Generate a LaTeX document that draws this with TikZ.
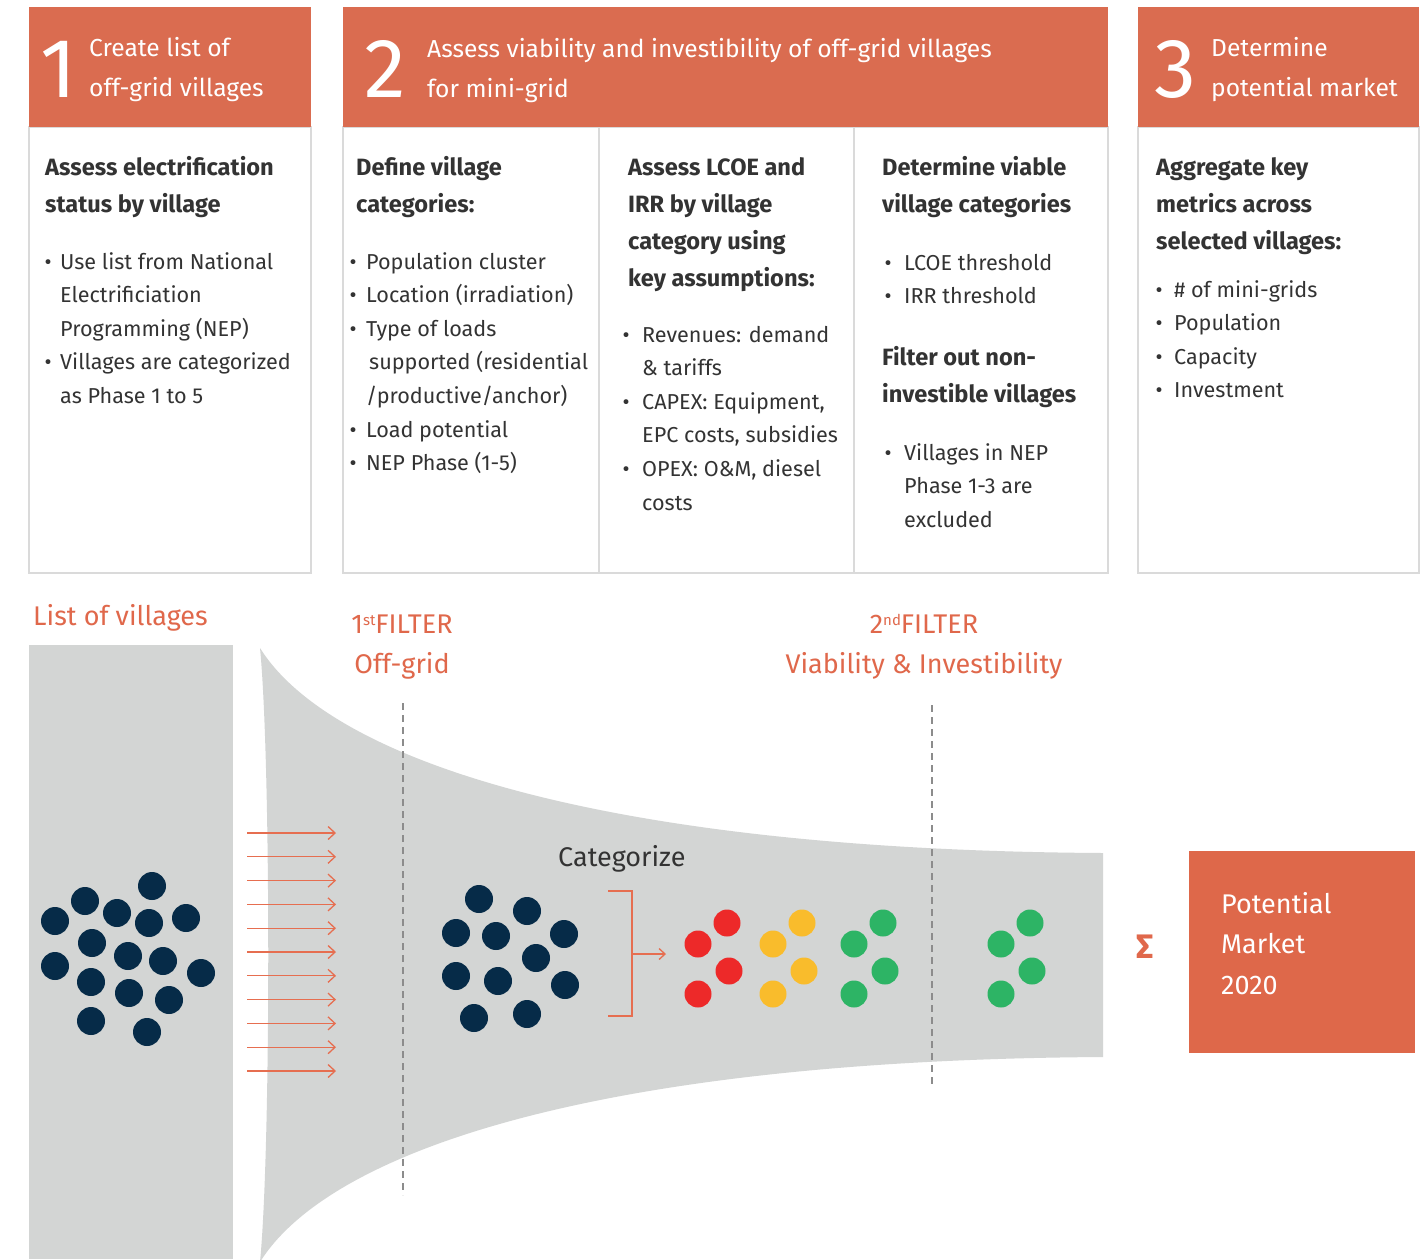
\documentclass[tikz,border=0pt]{standalone}
\usepackage{fontspec}
\setmainfont{Fira Sans}
\usetikzlibrary{arrows.meta}
\definecolor{hdr}{RGB}{218,108,80}
\definecolor{pmc}{RGB}{222,104,74}
\definecolor{org}{RGB}{224,104,75}
\definecolor{arr}{RGB}{230,110,80}
\definecolor{fun}{RGB}{211,213,212}
\definecolor{navy}{RGB}{6,43,72}
\definecolor{dred}{RGB}{237,41,41}
\definecolor{dyel}{RGB}{249,188,44}
\definecolor{dgrn}{RGB}{45,180,101}
\definecolor{txt}{RGB}{51,51,51}
\definecolor{brd}{RGB}{218,218,218}
\definecolor{dsh}{RGB}{140,140,140}
\newcommand\bu[1]{\leavevmode\llap{\makebox[0pt]{\textbullet}\hspace{#1pt}}}
\newcommand\sups[1]{\raisebox{7.5pt}{\fontsize{15}{15}\selectfont #1}}
\tikzset{
  hdrbox/.style={fill=hdr, draw=none, inner sep=0pt, anchor=north west},
  bodybox/.style={draw=brd, line width=1.3pt},
  bignum/.style={anchor=base west, inner sep=0pt, text=white, font=\fontsize{84}{84}\selectfont},
  htext/.style={anchor=base west, inner sep=0pt, text=white, font=\fontsize{24.6}{40}\selectfont},
  headtxt/.style={anchor=base west, inner sep=0pt, text=txt, font=\bfseries\fontsize{23.6}{37}\selectfont},
  bultxt/.style={anchor=base west, inner sep=0pt, text=txt, font=\fontsize{21.6}{33.6}\selectfont},
  orglbl/.style={inner sep=0pt, text=org, font=\fontsize{27}{27}\selectfont},
  flow/.style={draw=arr, line width=1.3pt, -{Straight Barb[length=7pt,width=13pt,line width=1.3pt]}},
  filterline/.style={draw=dsh, line width=1.4pt, dash pattern=on 7pt off 5pt}
}
\begin{document}
\begin{tikzpicture}[x=1pt,y=-1pt]
\useasboundingbox (0,0) rectangle (1426,1259);
\fill[white] (0,0) rectangle (1426,1259);

% ---------- top panels ----------
\draw[bodybox] (29,127) rectangle (311,573);
\draw[bodybox] (343,127) rectangle (1108,573);
\draw[bodybox] (599,127) -- (599,573);
\draw[bodybox] (854,127) -- (854,573);
\draw[bodybox] (1138,127) rectangle (1419,573);
\node[hdrbox, minimum width=282pt, minimum height=120pt] (h1) at (29,7) {};
\node[hdrbox, minimum width=765pt, minimum height=120pt] (h2) at (343,7) {};
\node[hdrbox, minimum width=281pt, minimum height=120pt] (h3) at (1138,7) {};

\node[bignum] (n1) at (40,97) {1};
\node[bignum] (n2) at (364,97) {2};
\node[bignum] (n3) at (1154,97) {3};
\node[htext] (t1) at (89,56) {\parbox[t]{215pt}{Create list of\\off-grid villages}};
\node[htext] (t2) at (427,57) {\parbox[t]{670pt}{Assess viability and investibility of off-grid villages\\for mini-grid}};
\node[htext] (t3) at (1211,56) {\parbox[t]{205pt}{Determine\\potential market}};

% column 1
\node[headtxt] (c1h) at (45,175) {\parbox[t]{262pt}{Assess electrification\\status by village}};
\node[bultxt] (c1b) at (60,269) {\parbox[t]{245pt}{\bu{12}Use list from National\\Electrificiation\\Programming (NEP)\\\bu{12}Villages are categorized\\as Phase 1 to 5}};
% column 2
\node[headtxt] (c2h) at (356,175) {\parbox[t]{235pt}{Define village\\categories:}};
\node[bultxt] (c2b) at (366,269) {\parbox[t]{230pt}{\bu{13}Population cluster\\\bu{13}Location (irradiation)\\\bu{13}Type of loads\\\hspace*{3pt}supported (residential\\/productive/anchor)\\\bu{13}Load potential\\\bu{13}NEP Phase (1-5)}};
% column 3
\node[headtxt] (c3h) at (628,175) {\parbox[t]{220pt}{Assess LCOE and\\IRR by village\\category using\\key assumptions:}};
\node[bultxt] (c3b) at (642,342) {\parbox[t]{210pt}{\bu{16}Revenues: demand\\\& tariffs\\\bu{16}CAPEX: Equipment,\\EPC costs, subsidies\\\bu{16}OPEX: O\&M, diesel\\costs}};
% column 4
\node[headtxt] (c4h) at (882,175) {\parbox[t]{220pt}{Determine viable\\village categories}};
\node[bultxt] (c4b) at (904,270) {\parbox[t]{200pt}{\bu{16}LCOE threshold\\\bu{16}IRR threshold}};
\node[headtxt] (c4h2) at (882,365) {\parbox[t]{220pt}{Filter out non-\\investible villages}};
\node[bultxt] (c4b2) at (904,460) {\parbox[t]{200pt}{\bu{16}Villages in NEP\\Phase 1-3 are\\excluded}};
% column 5
\node[headtxt] (c5h) at (1156,175) {\parbox[t]{255pt}{Aggregate key\\metrics across\\selected villages:}};
\node[bultxt] (c5b) at (1174,297) {\parbox[t]{235pt}{\bu{15}\# of mini-grids\\\bu{15}Population\\\bu{15}Capacity\\\bu{15}Investment}};

% ---------- funnel ----------
\fill[fun] (29,645) rectangle (233,1259);
\fill[fun] (260,648) .. controls (330,760) and (600,850) .. (1103,853)
  -- (1103,1057) .. controls (600,1060) and (330,1150) .. (260,1262)
  .. controls (271,1150) and (271,760) .. (260,648) -- cycle;

% arrows into funnel
\foreach \y [count=\i] in {833,856.8,880.6,904.4,928.2,952,975.8,999.6,1023.4,1047.2,1071} {
  \coordinate (as\i) at (247,\y);
  \coordinate (ae\i) at (336,\y);
  \draw[flow] (as\i) -- (ae\i);
}

% filter lines
\coordinate (f1t) at (403,703);
\coordinate (f1b) at (403,1195);
\coordinate (f2t) at (932,705);
\coordinate (f2b) at (932,1085);
\draw[filterline] (f1t) -- (f1b);
\draw[filterline] (f2t) -- (f2b);

% dots: list of villages
\foreach \x/\y in {152/886,85/901,117/913,55/921,149/923,186/918,92/943,128/956,163/961,55/966,201/973,91/982,129/993,169/1000,91/1021,147/1032}
  \fill[navy] (\x,\y) circle[radius=14];
% dots: off-grid
\foreach \x/\y in {479/899,527/911,456/933,496/936,564/934,536/958,456/976,498/981,565/985,474/1018,527/1014}
  \fill[navy] (\x,\y) circle[radius=14];
% categorized dots
\foreach \x/\y in {727/923,698/944,729/971,698/994}
  \fill[dred] (\x,\y) circle[radius=13.5];
\foreach \x/\y in {802/923,773/944,804/971,773/994}
  \fill[dyel] (\x,\y) circle[radius=13.5];
\foreach \x/\y in {883/923,854/944,885/971,854/994,1030/923,1001/944,1032/971,1001/994}
  \fill[dgrn] (\x,\y) circle[radius=13.5];

% categorize bracket
\coordinate (bt) at (608,891);
\coordinate (bb) at (608,1016);
\coordinate (bm) at (632,954);
\coordinate (be) at (666,954);
\draw[draw=arr, line width=1.3pt] (bt) -| (bm) |- (bb);
\draw[draw=arr, line width=1.3pt, -{Straight Barb[length=6pt,width=11pt,line width=1.3pt]}] (bm) -- (be);
\node[anchor=base west, inner sep=0pt, text=txt, font=\fontsize{27}{27}\selectfont] (cat) at (558,866) {Categorize};

% labels
\node[orglbl, anchor=base west] (lov) at (33,625) {List of villages};
\node[orglbl, anchor=base] (f1a) at (402,633) {1\sups{st}FILTER};
\node[orglbl, anchor=base] (f1c) at (402,673) {Off-grid};
\node[orglbl, anchor=base] (f2a) at (924,633) {2\sups{nd}FILTER};
\node[orglbl, anchor=base] (f2c) at (924,673) {Viability \& Investibility};

% result
\node[inner sep=0pt, text=org, font=\bfseries\fontsize{34}{34}\selectfont] (sig) at (1145,947) {Σ};
\node[hdrbox, fill=pmc, minimum width=226pt, minimum height=202pt] (pm) at (1189,851) {};
\node[anchor=base west, inner sep=0pt, text=white, font=\fontsize{27}{40.5}\selectfont] (pmt) at (1221,913) {\parbox[t]{180pt}{Potential\\Market\\2020}};
\end{tikzpicture}
\end{document}
